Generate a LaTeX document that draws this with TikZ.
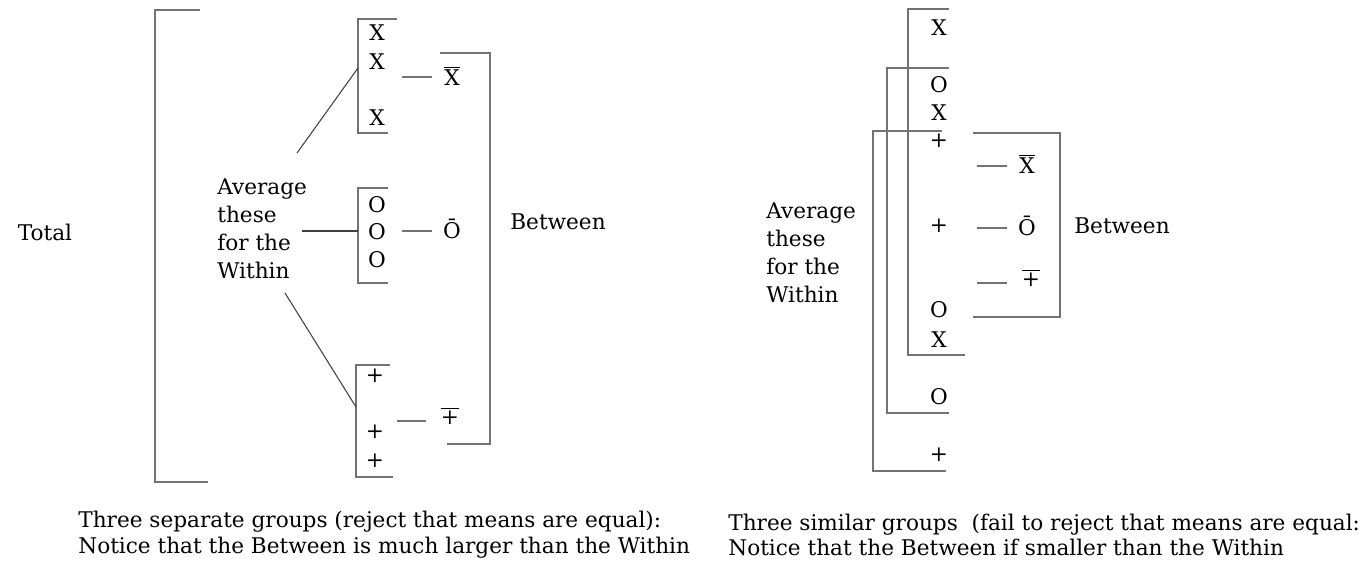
\documentclass[tikz,border=0pt]{standalone}
\usepackage{fontspec}
\setmainfont{DejaVu Serif}
\begin{document}
\begin{tikzpicture}[x=0.02cm,y=-0.02cm,
  brk/.style={draw=black!55,line width=1.1pt},
  lnk/.style={draw=black!75,line width=0.6pt},
  lbl/.style={inner sep=1pt,font=\fontsize{12.3}{14}\selectfont},
  note/.style={align=left,inner sep=0pt,font=\fontsize{12.3}{15.9}\selectfont},
  captext/.style={align=left,inner sep=0pt,font=\fontsize{12.3}{14.7}\selectfont}]
\useasboundingbox (0,0) rectangle (1363,565);

\node[lbl] (total) at (45,232) {Total};
\draw[brk] (200,10) -- (155,10) -- (155,482) -- (208,482);

\draw[brk] (397,19) -- (358,19) -- (358,133) -- (388,133);
\node[lbl] (xa) at (377,33) {X};
\node[lbl] (xb) at (377,62) {X};
\node[lbl] (xc) at (377,118) {X};
\coordinate (gx) at (358,68);

\draw[brk] (388,188) -- (358,188) -- (358,283) -- (388,283);
\node[lbl] (oa) at (377,205) {O};
\node[lbl] (ob) at (377,232) {O};
\node[lbl] (oc) at (377,260) {O};
\coordinate (go) at (358,231);

\draw[brk] (390,365) -- (356,365) -- (356,477) -- (393,477);
\node[lbl] (pa) at (375,376) {+};
\node[lbl] (pb) at (375,432) {+};
\node[lbl] (pc) at (375,461) {+};
\coordinate (gp) at (356,407);

\node[lbl] (xbar) at (452,76) {$\overline{\hbox{X}}$};
\node[lbl] (obar) at (452,229) {\=O};
\node[lbl] (pbar) at (450,416) {$\overline{\hbox{+}}$};
\draw[brk] (402,77) -- (432,77);
\draw[brk] (402,231) -- (432,231);
\draw[brk] (397,421) -- (426,421);

\draw[brk] (440,53) -- (490,53) -- (490,444) -- (447,444);
\node[lbl] (betwL) at (558,222) {Between};

\node[note,anchor=west] (avgL) at (217,229) {Average\\these\\for the\\Within};
\draw[lnk] (297,153) -- (gx);
\draw[lnk] (302,231) -- (go);
\draw[lnk] (285,293) -- (gp);

\draw[brk] (949,9) -- (908,9) -- (908,355) -- (965,355);
\draw[brk] (949,68) -- (887,68) -- (887,413) -- (949,413);
\draw[brk] (942,131) -- (873,131) -- (873,471) -- (946,471);
\node[lbl] (ra) at (939,28) {X};
\node[lbl] (rb) at (939,85) {O};
\node[lbl] (rc) at (939,113) {X};
\node[lbl] (rd) at (939,141) {+};
\node[lbl] (re) at (939,226) {+};
\node[lbl] (rf) at (939,310) {O};
\node[lbl] (rg) at (939,340) {X};
\node[lbl] (rh) at (939,397) {O};
\node[lbl] (ri) at (939,455) {+};

\draw[brk] (973,133) -- (1060,133) -- (1060,317) -- (973,317);
\node[lbl] (rxbar) at (1027,164) {$\overline{\hbox{X}}$};
\node[lbl] (robar) at (1027,226) {\=O};
\node[lbl] (rpbar) at (1031,278) {$\overline{\hbox{+}}$};
\draw[brk] (977,166) -- (1007,166);
\draw[brk] (977,228) -- (1007,228);
\draw[brk] (977,283) -- (1007,283);
\node[lbl] (betwR) at (1122,226) {Between};

\node[note,anchor=west] (avgR) at (766,253) {Average\\these\\for the\\Within};

\node[captext,anchor=west] (capL) at (78,535) {Three separate groups (reject that means are equal):\\Notice that the Between is much larger than the Within};
\node[captext,anchor=west] (capR) at (728,535) {Three similar groups\ \ (fail to reject that means are equal:\\Notice that the Between if smaller than the Within};
\end{tikzpicture}
\end{document}
